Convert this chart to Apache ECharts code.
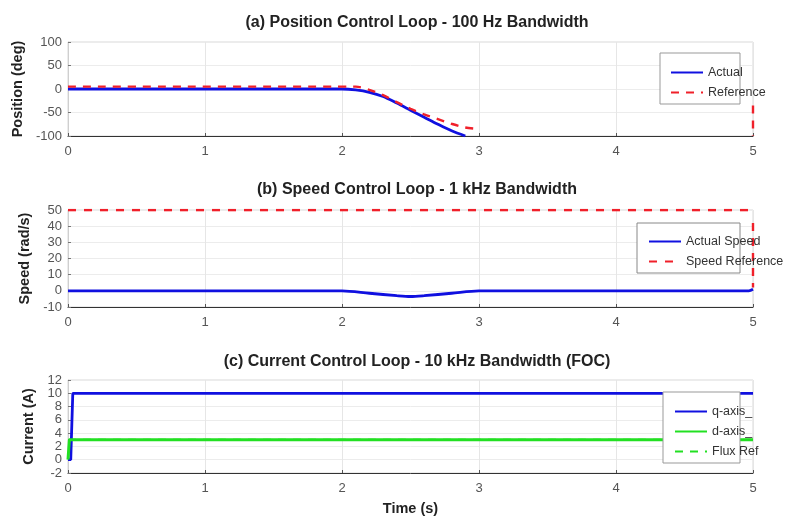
<!DOCTYPE html>
<html><head><meta charset="utf-8">
<script src="https://cdn.jsdelivr.net/npm/echarts@6/dist/echarts.min.js"></script>
<style>html,body{margin:0;padding:0;background:#fff}#c{width:785px;height:517px}</style>
</head><body><div id="c"></div>
<script>
// ---- Data ----
const titles = ['(a) Position Control Loop - 100 Hz Bandwidth', '(b) Speed Control Loop - 1 kHz Bandwidth', '(c) Current Control Loop - 10 kHz Bandwidth (FOC)'];
const yNames = ['Position (deg)', 'Speed (rad/s)', 'Current (A)'];
const xTicks = [0, 1, 2, 3, 4, 5];
// (a) position
const posActualT = [0, 2.0, 2.1, 2.2, 2.3, 2.4, 2.5, 2.6, 2.7, 2.8, 2.9];
const posActualV = [0, 0, -2, -7, -16, -30, -45, -60, -75, -89, -100];
const posRefT = [0, 2.1, 2.2, 2.3, 2.4, 2.5, 2.6, 2.7, 2.8, 2.9, 3.0];
const posRefV = [5, 5, -2, -13, -28, -42, -54, -64, -74, -82, -85];
const posRefEndT = [5, 5];
const posRefEndV = [-35, -100];
// (b) speed
const spdActualT = [0, 2.0, 2.2, 2.4, 2.5, 2.6, 2.8, 3.0, 4.97, 5.0];
const spdActualV = [0, 0, -1.5, -3, -3.5, -3, -1.5, 0, 0, 1];
const spdRefT = [0, 5];
const spdRefV = [50, 50];
const spdRefEndT = [5, 5];
const spdRefEndV = [42, 2];
// (c) current
const iqT = [0, 0.02, 0.035, 5];
const iqV = [0, 0, 10, 10];
const idT = [0, 0.01, 5];
const idV = [0, 3, 3];
const fluxRefT = [0, 5];
const fluxRefV = [3, 3];
// legends
const legendA = ['Actual', 'Reference'];
const legendB = ['Actual Speed', 'Speed Reference'];
const legendC = ['q-axis_', 'd-axis_', 'Flux Ref'];

const pts = (t, v) => t.map((x, i) => [x, v[i]]);
const FONT = '"Liberation Sans", Arial, sans-serif';
const BLUE = '#1010e0', RED = '#f0202a', GREEN = '#22e022';

const grids = [
  {left: 68, right: 32, top: 42, height: 94},
  {left: 68, right: 32, top: 210, height: 97},
  {left: 68, right: 32, top: 380, height: 95}
];
const yRanges = [[-100, 100, 50], [-10, 50, 10], [-2, 12, 2]];
const nameGaps = [37, 36, 31];
const titleTops = [10, 177, 349];

const legendCommon = {orient: 'vertical', itemWidth: 32, itemHeight: 14, itemGap: 7,
  textStyle: {fontSize: 12.5, color: '#333'}, itemStyle: {opacity: 0}, z: 20};

const option = {
  animation: false,
  backgroundColor: '#fff',
  textStyle: {fontFamily: FONT},
  title: titles.map((t, i) => ({text: t, left: 412, top: titleTops[i], textAlign: 'center',
    textStyle: {fontSize: 16, fontWeight: 'bold', color: '#222', fontFamily: FONT}})),
  grid: grids.map(g => Object.assign({show: true, borderColor: '#d8d8d8', borderWidth: 1, backgroundColor: '#fff'}, g)),
  xAxis: grids.map((g, i) => ({
    type: 'value', gridIndex: i, min: 0, max: 5, interval: 1,
    name: i === 2 ? 'Time (s)' : '', nameLocation: 'middle', nameGap: 28,
    nameTextStyle: {fontSize: 14.5, fontWeight: 'bold', color: '#222'},
    axisLine: {show: true, onZero: false, lineStyle: {color: '#333', width: 1}},
    axisTick: {show: true, inside: true, length: 3, lineStyle: {color: '#555'}},
    axisLabel: {fontSize: 13, color: '#555', margin: 9},
    splitLine: {show: true, lineStyle: {color: '#e6e6e6', width: 1}}
  })),
  yAxis: grids.map((g, i) => ({
    type: 'value', gridIndex: i, min: yRanges[i][0], max: yRanges[i][1], interval: yRanges[i][2],
    name: yNames[i], nameLocation: 'middle', nameGap: nameGaps[i],
    nameTextStyle: {fontSize: 14.5, fontWeight: 'bold', color: '#222'},
    axisLine: {show: true, onZero: false, lineStyle: {color: '#cfcfcf', width: 1}},
    axisTick: {show: true, inside: true, length: 3, lineStyle: {color: '#777'}},
    axisLabel: {fontSize: 13, color: '#555', margin: 6},
    splitLine: {show: true, lineStyle: {color: '#ececec', width: 1}}
  })),
  legend: [
    Object.assign({data: legendA, left: 665, top: 61}, legendCommon),
    Object.assign({data: legendB, left: 643, top: 230}, legendCommon),
    Object.assign({data: legendC, left: 669, top: 400}, legendCommon)
  ],
  graphic: [
    {type: 'rect', shape: {x: 660, y: 53, width: 80, height: 51}, style: {fill: '#fff', stroke: '#999', lineWidth: 1}, z: 15},
    {type: 'rect', shape: {x: 637, y: 223, width: 103, height: 50}, style: {fill: '#fff', stroke: '#888', lineWidth: 1}, z: 15},
    {type: 'rect', shape: {x: 663, y: 392, width: 77, height: 71}, style: {fill: '#fff', stroke: '#999', lineWidth: 1}, z: 15}
  ],
  series: [
    {name: 'Actual', type: 'line', xAxisIndex: 0, yAxisIndex: 0, data: pts(posActualT, posActualV), symbol: 'none', smooth: 0.3,
      lineStyle: {color: BLUE, width: 2.8}, itemStyle: {color: BLUE}},
    {name: 'Reference', type: 'line', xAxisIndex: 0, yAxisIndex: 0, data: pts(posRefT, posRefV), symbol: 'none', smooth: 0.3,
      lineStyle: {color: RED, width: 2.4, type: [8, 7]}, itemStyle: {color: RED}},
    {name: 'refEndA', type: 'line', xAxisIndex: 0, yAxisIndex: 0, data: pts(posRefEndT, posRefEndV), symbol: 'none',
      lineStyle: {color: RED, width: 2.4, type: [8, 7]}, silent: true},
    {name: 'Speed Reference', type: 'line', xAxisIndex: 1, yAxisIndex: 1, data: pts(spdRefT, spdRefV), symbol: 'none',
      lineStyle: {color: RED, width: 2.6, type: [8, 8]}, itemStyle: {color: RED}},
    {name: 'refEndB', type: 'line', xAxisIndex: 1, yAxisIndex: 1, data: pts(spdRefEndT, spdRefEndV), symbol: 'none',
      lineStyle: {color: RED, width: 2.4, type: [8, 7]}, silent: true},
    {name: 'Actual Speed', type: 'line', xAxisIndex: 1, yAxisIndex: 1, data: pts(spdActualT, spdActualV), symbol: 'none', smooth: 0.3,
      lineStyle: {color: BLUE, width: 2.8}, itemStyle: {color: BLUE}},
    {name: 'Flux Ref', type: 'line', xAxisIndex: 2, yAxisIndex: 2, data: pts(fluxRefT, fluxRefV), symbol: 'none',
      lineStyle: {color: GREEN, width: 2.2, type: [8, 7]}, itemStyle: {color: GREEN}},
    {name: 'q-axis_', type: 'line', xAxisIndex: 2, yAxisIndex: 2, data: pts(iqT, iqV), symbol: 'none',
      lineStyle: {color: BLUE, width: 2.8}, itemStyle: {color: BLUE}},
    {name: 'd-axis_', type: 'line', xAxisIndex: 2, yAxisIndex: 2, data: pts(idT, idV), symbol: 'none',
      lineStyle: {color: GREEN, width: 3}, itemStyle: {color: GREEN}}
  ]
};
const chart = echarts.init(document.getElementById('c'), null, {renderer: 'canvas'});
chart.setOption(option);
</script></body></html>
